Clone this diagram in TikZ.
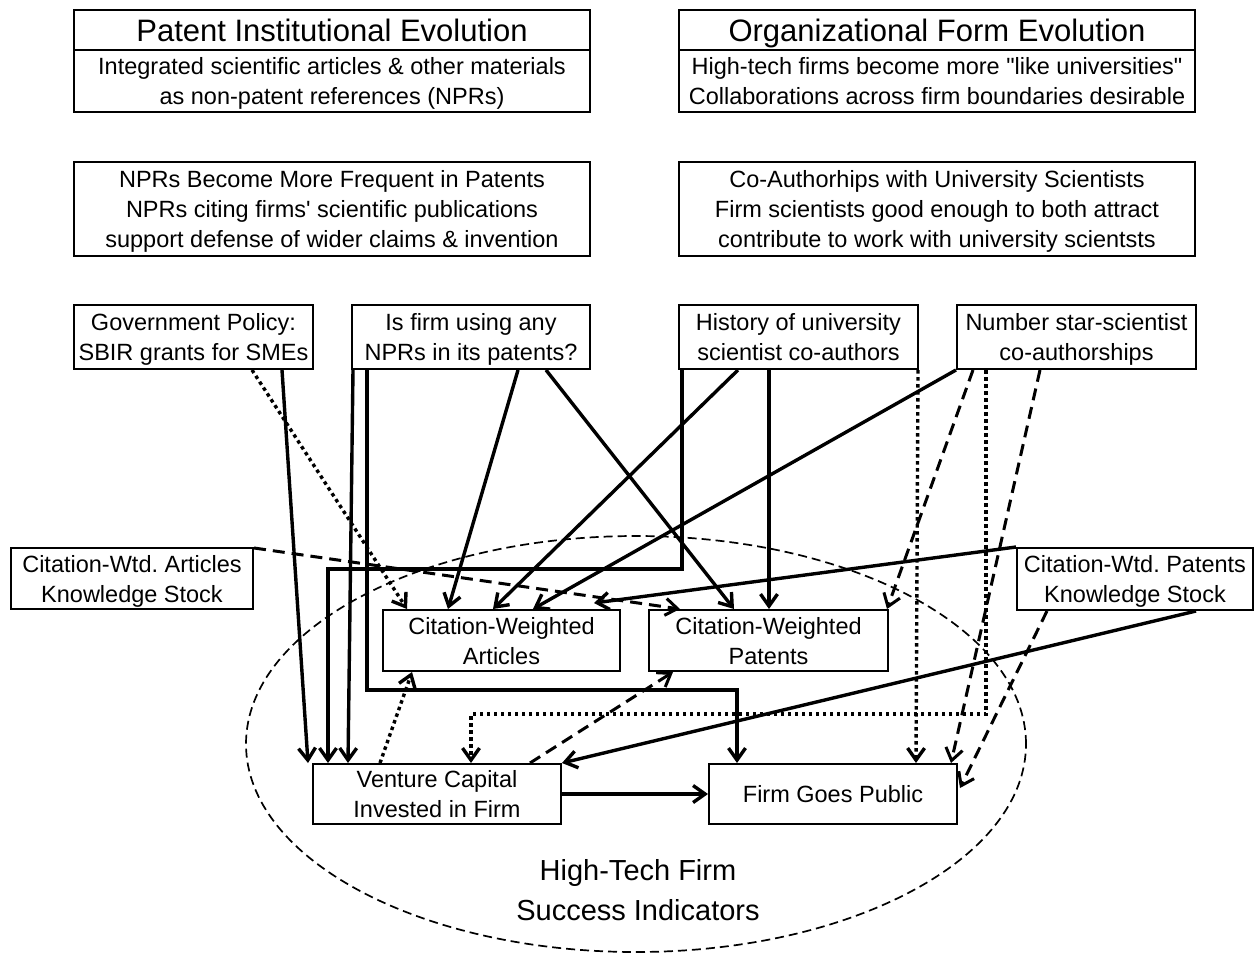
\documentclass[tikz,border=0pt]{standalone}
\usepackage{fontspec}
\setmainfont{Liberation Sans}[Ligatures=TeXOff]
\usetikzlibrary{calc,arrows.meta,shapes.geometric}
\newcommand{\bodyfont}{\fontsize{23.5}{30}\selectfont}
\newcommand{\headfont}{\fontsize{31}{36}\selectfont}
\newcommand{\bigfont}{\fontsize{29}{40}\selectfont}
% last line of a box: no descender depth, so cap-to-baseline ink is centred
\newcommand{\lastline}[1]{\raisebox{0pt}[\height][0pt]{#1}}
\frenchspacing
\begin{document}
\begin{tikzpicture}[x=1pt,y=-1pt,
  box/.style={draw, line width=2pt, fill=white, inner sep=0pt, align=center,
              font=\bodyfont, anchor=north west},
  conn/.style={line width=3.4pt, -{Straight Barb[length=12pt,width=17pt]}},
  dotconn/.style={conn, dash pattern=on 3.5pt off 3.5pt},
  dashconn/.style={conn, line width=3pt, dash pattern=on 12pt off 7pt},
]
\useasboundingbox (0,0) rectangle (1256,962);

% success-indicator region
\node[draw, ellipse, dash pattern=on 9pt off 5pt, line width=1.7pt,
      minimum width=780pt, minimum height=416pt, inner sep=0pt] (firm) at (636,744) {};
\node[font=\bigfont, align=center] (firmlbl) at (638,890) {High-Tech Firm\\Success Indicators};

% institutional context
\node[box, minimum width=516pt, minimum height=40pt, font=\headfont] (pieT) at (73,9) {\lastline{Patent Institutional Evolution}};
\node[box, minimum width=516pt, minimum height=62pt] (pieB) at (73,49)
  {Integrated scientific articles \& other materials\\\lastline{as non-patent references (NPRs)}};
\node[box, minimum width=516pt, minimum height=40pt, font=\headfont] (ofeT) at (678,9) {\lastline{Organizational Form Evolution}};
\node[box, minimum width=516pt, minimum height=62pt] (ofeB) at (678,49)
  {High-tech firms become more "like universities"\\\lastline{Collaborations across firm boundaries desirable}};

\node[box, minimum width=516pt, minimum height=94pt] (npr) at (73,161)
  {NPRs Become More Frequent in Patents\\NPRs citing firms' scientific publications\\\lastline{support defense of wider claims \& invention}};
\node[box, minimum width=516pt, minimum height=94pt] (coa) at (678,161)
  {Co-Authorhips with University Scientists\\Firm scientists good enough to both attract\\\lastline{contribute to work with university scientsts}};

% explanatory variables
\node[box, minimum width=239pt, minimum height=64pt] (gov) at (73,304) {Government Policy:\\\lastline{SBIR grants for SMEs}};
\node[box, minimum width=238pt, minimum height=64pt] (isf) at (351,304) {Is firm using any\\\lastline{NPRs in its patents?}};
\node[box, minimum width=239pt, minimum height=64pt] (his) at (678,304) {History of university\\\lastline{scientist co-authors}};
\node[box, minimum width=239pt, minimum height=64pt] (star) at (956,304) {Number star-scientist\\\lastline{co-authorships}};

\node[box, minimum width=242pt, minimum height=61pt] (cwa) at (10,547) {Citation-Wtd. Articles\\\lastline{Knowledge Stock}};
\node[box, minimum width=236pt, minimum height=62pt] (cwp) at (1016,547) {Citation-Wtd. Patents\\\lastline{Knowledge Stock}};

% outcomes
\node[box, minimum width=237pt, minimum height=61pt] (art) at (382,609) {Citation-Weighted\\\lastline{Articles}};
\node[box, minimum width=239pt, minimum height=61pt] (pat) at (648,609) {Citation-Weighted\\\lastline{Patents}};
\node[box, minimum width=248pt, minimum height=60pt] (vc) at (312,763) {Venture Capital\\\lastline{Invested in Firm}};
\node[box, minimum width=248pt, minimum height=60pt] (fgp) at (708,763) {\lastline{Firm Goes Public}};

% solid links
\draw[conn] ($(gov.south west)+(209,0)$) -- ($(vc.north west)+(-4,0)$);
\draw[conn] ($(isf.south west)+(2,0)$) -- ($(vc.north west)+(36,0)$);
\draw[conn] ($(his.south west)+(4,0)$) -- ++(0,199) -| ($(vc.north west)+(16,0)$);
\draw[conn] ($(isf.south west)+(16,0)$) -- ++(0,320) -| ($(fgp.north west)+(29,0)$);
\draw[conn] ($(isf.south west)+(167,0)$) -- ($(art.north west)+(66,0)$);
\draw[conn] ($(isf.south west)+(195,0)$) -- ($(pat.north west)+(86,0)$);
\draw[conn] ($(his.south west)+(60,0)$) -- ($(art.north west)+(111,0)$);
\draw[conn] ($(his.south west)+(91,0)$) -- ($(pat.north west)+(121,0)$);
\draw[conn] (star.south west) -- ($(art.north west)+(151,0)$);
\draw[conn] (cwp.north west) -- ($(art.north east)+(-27,-6)$);
\draw[conn] ($(cwp.south west)+(180,0)$) -- (vc.north east);
\draw[conn] (vc.east) -- (fgp.west);

% dotted links
\draw[dotconn] ($(gov.south west)+(179,0)$) -- ($(art.north west)+(25,0)$);
\draw[dotconn] ($(his.south east)+(-1,0)$) -- ($(fgp.north west)+(208,0)$);
\draw[dotconn] ($(star.south west)+(30,0)$) -- ++(0,344) -| ($(vc.north west)+(159,0)$);
\draw[dotconn] ($(vc.north west)+(68,0)$) -- ($(art.south west)+(30,0)$);

% dashed links
\draw[dashconn] ($(star.south west)+(17,0)$) -- ($(pat.north east)+(-2,0)$);
\draw[dashconn] ($(star.south west)+(84,0)$) -- ($(fgp.north east)+(-7,0)$);
\draw[dashconn] ($(cwa.north east)+(0,1)$) -- ($(pat.north west)+(32,0)$);
\draw[dashconn] ($(cwp.south west)+(31,0)$) -- ($(fgp.east)+(2,-6)$);
\draw[dashconn] ($(vc.north west)+(218,0)$) -- ($(pat.south west)+(25,0)$);
\end{tikzpicture}
\end{document}
